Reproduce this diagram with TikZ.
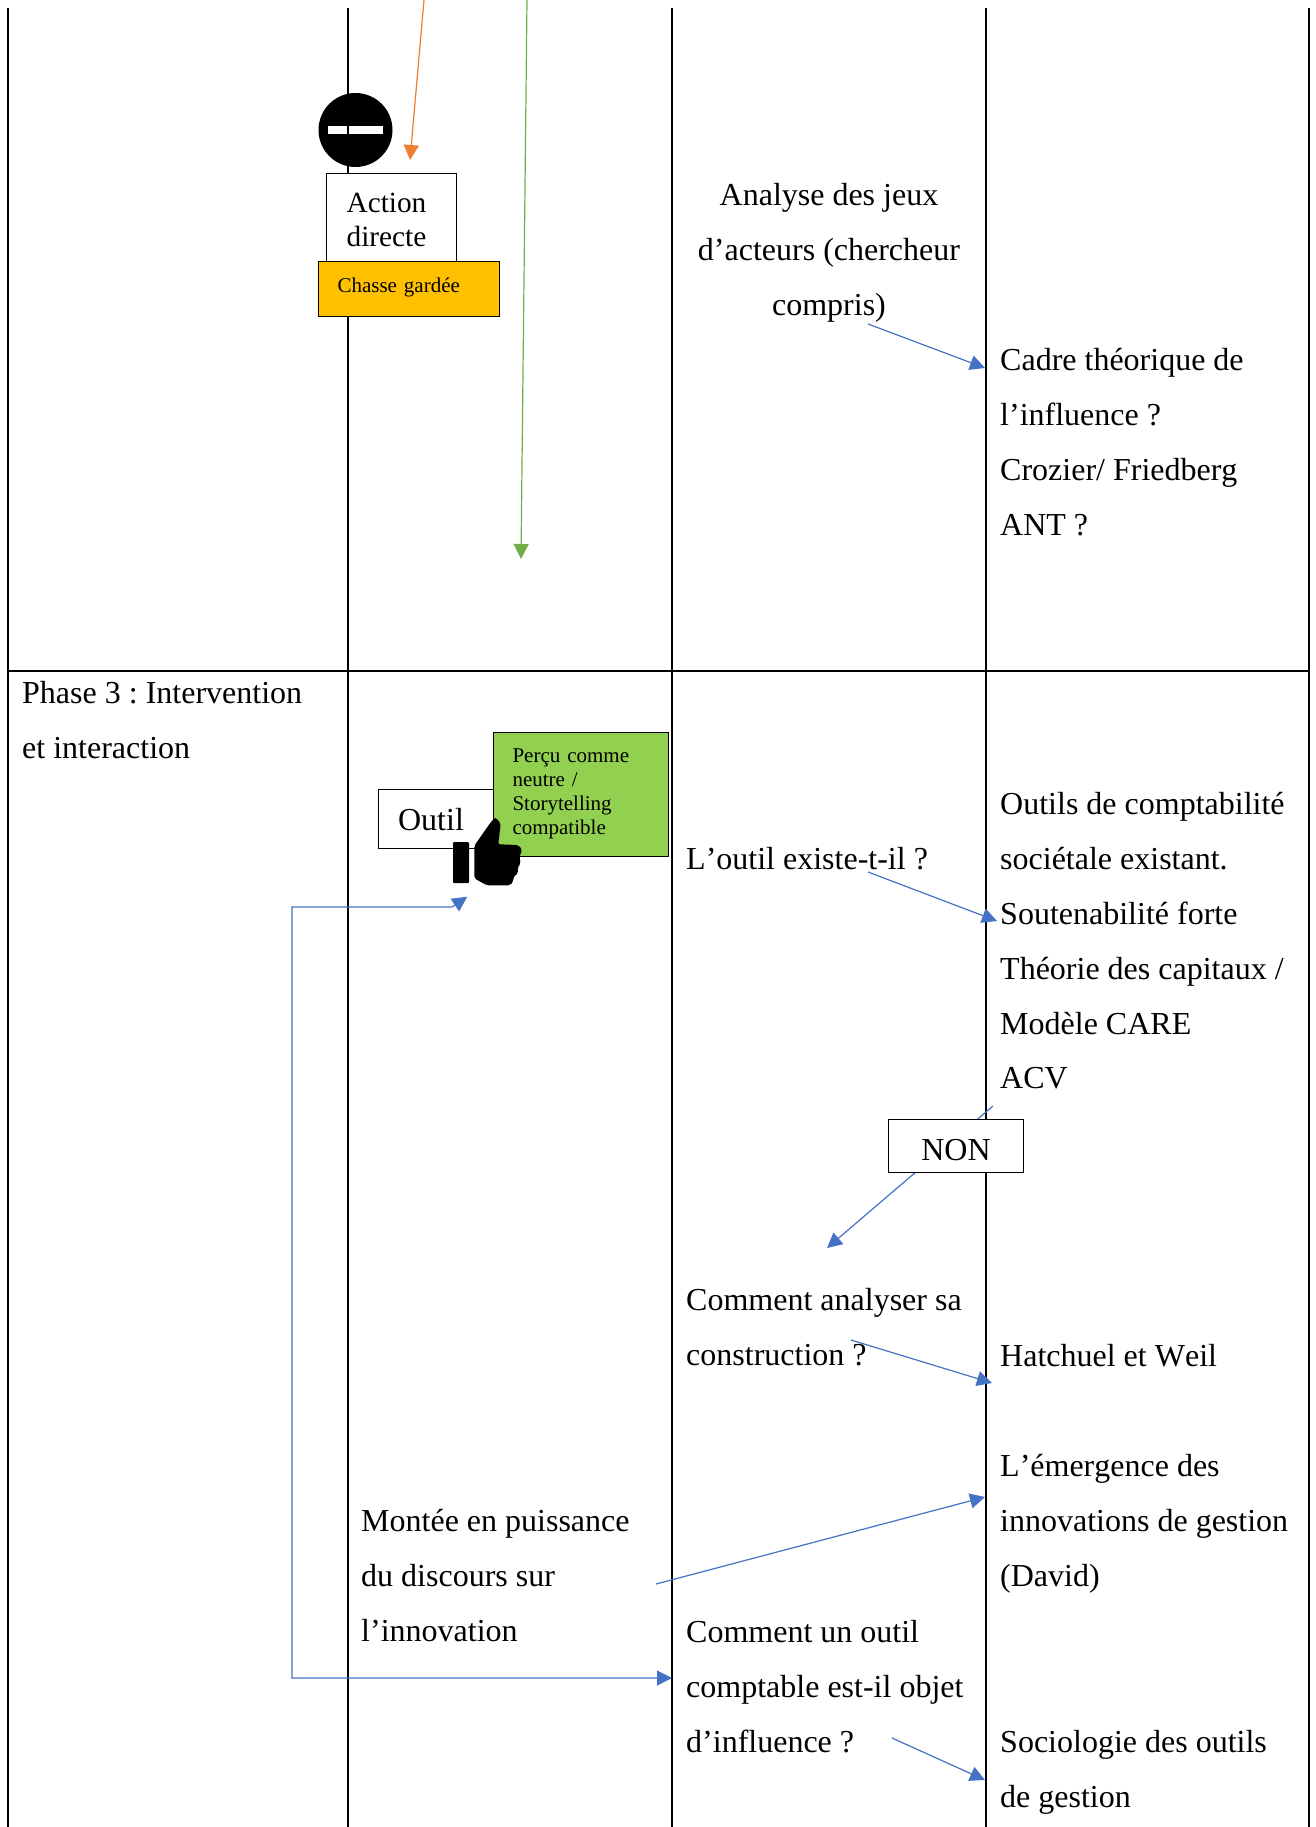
\documentclass[tikz,border=0pt]{standalone}
\usepackage{fontspec}
\setmainfont[Kerning=Off]{Liberation Serif}
\usetikzlibrary{arrows.meta}

\definecolor{linkblue}{HTML}{4472C4}
\definecolor{linkorange}{HTML}{ED7D31}
\definecolor{linkgreen}{HTML}{70AD47}
\definecolor{boxyellow}{HTML}{FFC000}
\definecolor{boxgreen}{HTML}{92D050}

\begin{document}
\frenchspacing
\begin{tikzpicture}[x=1pt, y=-1pt]
	\tikzstyle{every node}=[font=\fontsize{32}{54.9}\selectfont, inner sep=0pt];
	\tikzstyle{cell}=[anchor=north west, align=left];
	\tikzstyle{box}=[draw=black, fill=white, line width=1.2pt, anchor=north west, align=left, inner xsep=20pt];
	\tikzstyle{tag}=[box, line width=1pt, font=\fontsize{21}{24.2}\selectfont];
	\tikzstyle{link}=[linkblue, line width=1.2pt, -{Triangle[length=15pt, width=15pt]}];
	\useasboundingbox (0, 0) rectangle (1316, 1827);
	
	%No entry sign
	\fill[black] (355.5, 130) circle (37);
	\fill[white] (328, 126) rectangle (383, 134);
	
	%Table
	\draw[black, line width=1.5pt] (8, 8) -- (8, 1827);
	\draw[black, line width=1.5pt] (348, 8) -- (348, 1827);
	\draw[black, line width=1.5pt] (672, 8) -- (672, 1827);
	\draw[black, line width=1.5pt] (986, 8) -- (986, 1827);
	\draw[black, line width=1.5pt] (1309, 8) -- (1309, 1827);
	\draw[black, line width=1.5pt] (8, 671) -- (1309, 671);
	
	%Column texts
	\node[cell] (phase) at (22, 681) {Phase 3 : Intervention\\et interaction};
	\node[cell] (montee) at (361, 1509) {Montée en puissance\\du discours sur\\l’innovation};
	\node[anchor=north, align=center] (jeux) at (829, 183) {Analyse des jeux\\d’acteurs (chercheur\\compris)};
	\node[cell] (existe) at (686, 847) {L’outil existe-t-il ?};
	\node[cell] (analyser) at (686, 1288) {Comment analyser sa\\construction ?};
	\node[cell] (objet) at (686, 1620) {Comment un outil\\comptable est-il objet\\d’influence ?};
	\node[cell] (cadre) at (1000, 348) {Cadre théorique de\\l’influence ?\\Crozier/ Friedberg\\ANT ?};
	\node[cell] (outils) at (1000, 792) {Outils de comptabilité\\sociétale existant.\\Soutenabilité forte\\Théorie des capitaux /\\Modèle CARE\\ACV};
	\node[cell] (hatchuel) at (1000, 1344) {Hatchuel et Weil};
	\node[cell] (emergence) at (1000, 1454) {L’émergence des\\innovations de gestion\\(David)};
	\node[cell] (sociologie) at (1000, 1730) {Sociologie des outils\\de gestion};
	
	%Free ends
	\coordinate (orangeA) at (424, 0);
	\coordinate (orangeB) at (410, 160);
	\coordinate (greenA) at (527, 0);
	\coordinate (greenB) at (521, 559);
	\coordinate (jeuxA) at (868, 324);
	\coordinate (jeuxB) at (985, 368);
	\coordinate (existeA) at (868, 872);
	\coordinate (existeB) at (997, 921);
	\coordinate (nonA) at (993, 1106);
	\coordinate (nonB) at (827, 1248);
	\coordinate (constrA) at (851, 1340);
	\coordinate (constrB) at (992, 1383);
	\coordinate (montA) at (656, 1584);
	\coordinate (montB) at (985, 1497);
	\coordinate (influA) at (892, 1738);
	\coordinate (influB) at (985, 1780);
	\coordinate (loopA) at (672, 1678);
	\coordinate (loopB) at (292, 1678);
	\coordinate (loopC) at (292, 907);
	\coordinate (loopD) at (452, 907);
	\coordinate (loopE) at (467.3, 896.7);
	
	%Links
	\draw[link, linkorange] (orangeA) -- (orangeB);
	\draw[link, linkgreen] (greenA) -- (greenB);
	\draw[link] (jeuxA) -- (jeuxB);
	\draw[link] (existeA) -- (existeB);
	\draw[link] (nonA) -- (nonB);
	\draw[link] (constrA) -- (constrB);
	\draw[link] (montA) -- (montB);
	\draw[link] (influA) -- (influB);
	\draw[link, {Triangle[length=15pt, width=15pt]}-{Triangle[length=15pt, width=15pt]}] (loopE) -- (loopD) -- (loopC) -- (loopB) -- (loopA);
	
	%Boxes
	\node[box, text width=90pt, minimum height=88pt, font=\fontsize{29.3}{34}\selectfont] (action) at (326, 173) {\rule{0pt}{24pt}Action\\directe};
	\node[tag, fill=boxyellow, text width=142pt, minimum height=55pt, inner xsep=19.5pt] (chasse) at (317.5, 261) {\raisebox{-3.5pt}[0pt][0pt]{Chasse gardée}};
	\node[box, text width=75pt, minimum height=59pt] (outil) at (377.5, 788.5) {\rule{0pt}{24pt}Outil};
	\node[tag, fill=boxgreen, text width=136pt, minimum height=124pt, inner xsep=19.5pt] (percu) at (492.5, 731.5) {Perçu comme\\neutre /\\Storytelling\\compatible};
	\node[box, line width=1pt, inner xsep=0pt, text width=135pt, minimum height=53pt, align=center] (non) at (888, 1119) {\raisebox{-14.5pt}[0pt][0pt]{NON}};
	
	%Thumb
	\fill[black, rounded corners=1pt] (453, 842) rectangle (469, 883);
	\fill[black, rounded corners=2pt] (474.3, 845.7) -- (490, 823.3) -- (495, 817.3) -- (500.7, 823.3) -- (498.3, 844.3) -- (518.3, 845) -- (522.3, 850) -- (519.3, 856.7) -- (520.7, 863.3) -- (517.3, 868.3) -- (518.3, 873.3) -- (513.3, 876.7) -- (513.3, 881.7) -- (510, 885.3) -- (486.7, 885.3) -- (474.3, 878.3) -- cycle;
\end{tikzpicture}
\end{document}
